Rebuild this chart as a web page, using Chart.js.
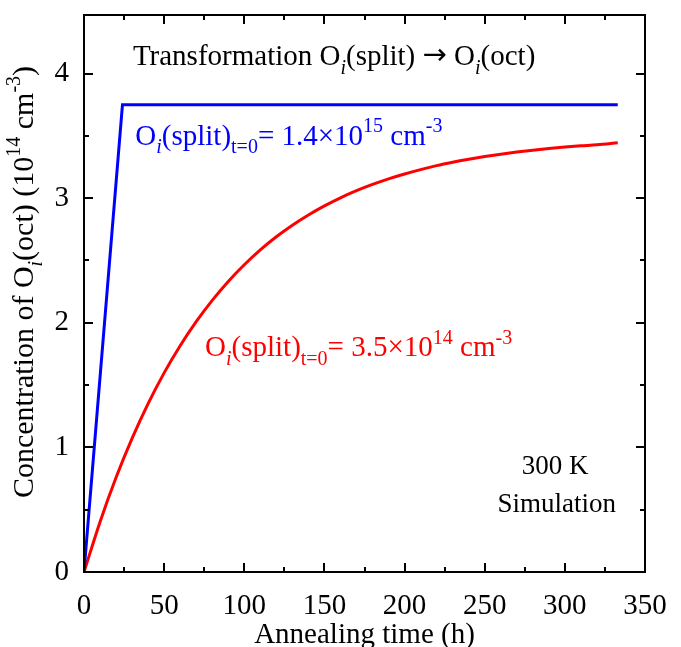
<!DOCTYPE html>
<html>
<head>
<meta charset="utf-8">
<script src="https://cdn.jsdelivr.net/npm/chart.js@4/dist/chart.umd.min.js"></script>
<style>
  html, body { margin: 0; padding: 0; background: #fff; }
  #wrap { width: 681px; height: 647px; }
</style>
</head>
<body>
<div id="wrap"><canvas id="c" width="681" height="647"></canvas></div>
<script>
// Annealing times (h) and O_i(oct) concentration (10^14 cm^-3)
const redTimes = [0, 10, 20, 30, 40, 50, 60, 70, 80, 90, 100, 110, 120, 130, 140, 150, 160, 170,
                  180, 190, 200, 210, 220, 230, 240, 250, 260, 270, 280, 290, 300, 310, 320, 333];
const redValues = [0, 0.402, 0.758, 1.072, 1.351, 1.598, 1.816, 2.009, 2.180, 2.332, 2.466, 2.585,
                   2.690, 2.783, 2.865, 2.938, 3.003, 3.060, 3.110, 3.155, 3.194, 3.229, 3.261,
                   3.288, 3.312, 3.334, 3.353, 3.370, 3.385, 3.398, 3.410, 3.420, 3.429, 3.445];
const blueTimes = [0, 24, 333];
const blueValues = [0, 3.75, 3.75];

const xTicks = [0, 50, 100, 150, 200, 250, 300, 350];
const xMinorTicks = [25, 75, 125, 175, 225, 275, 325];
const yTicks = [0, 1, 2, 3, 4];
const yMinorTicks = [0.5, 1.5, 2.5, 3.5];

const SERIF = '"Liberation Serif", "DejaVu Serif", serif';
const FS = 29;

function toPoints(xs, ys) { return xs.map((x, i) => ({ x: x, y: ys[i] })); }

// Rich text: segments of [text, kind], kind in n | i | sub | subi | sup | sym
function segFont(kind, size) {
  if (kind === 'sym') return size + 'px "DejaVu Sans", sans-serif';
  const small = (kind === 'sub' || kind === 'subi' || kind === 'sup');
  const s = small ? Math.round(size * 0.68) : size;
  const it = (kind === 'i' || kind === 'subi') ? 'italic ' : '';
  return it + s + 'px ' + SERIF;
}
function segShift(kind, size) {
  if (kind === 'sub' || kind === 'subi') return size * 0.30;
  if (kind === 'sup') return -size * 0.42;
  if (kind === 'sym') return -size * 0.02;
  return 0;
}
function richWidth(ctx, segs, size) {
  let w = 0;
  for (const [t, k] of segs) { ctx.font = segFont(k, size); w += ctx.measureText(t).width; }
  return w;
}
function drawRich(ctx, x, y, segs, size, color) {
  ctx.save();
  ctx.fillStyle = color;
  ctx.textBaseline = 'alphabetic';
  ctx.textAlign = 'left';
  let cx = x;
  for (const [t, k] of segs) {
    ctx.font = segFont(k, size);
    ctx.fillText(t, cx, y + segShift(k, size));
    cx += ctx.measureText(t).width;
  }
  ctx.restore();
}

const titleSegs = [['Transformation O', 'n'], ['i', 'subi'], ['(split) ', 'n'], ['\u2192', 'sym'], [' O', 'n'], ['i', 'subi'], ['(oct)', 'n']];
const blueSegs = [['O', 'n'], ['i', 'subi'], ['(split)', 'n'], ['t=0', 'sub'], ['= 1.4\u00d710', 'n'], ['15', 'sup'], [' cm', 'n'], ['-3', 'sup']];
const redSegs = [['O', 'n'], ['i', 'subi'], ['(split)', 'n'], ['t=0', 'sub'], ['= 3.5\u00d710', 'n'], ['14', 'sup'], [' cm', 'n'], ['-3', 'sup']];
const yTitleSegs = [['Concentration of O', 'n'], ['i', 'subi'], ['(oct) (10', 'n'], ['14', 'sup'], [' cm', 'n'], ['-3', 'sup'], [')', 'n']];

const framePlugin = {
  id: 'frameAndText',
  afterDraw(chart) {
    const ctx = chart.ctx;
    const a = chart.chartArea;
    const xs = chart.scales.x, ys = chart.scales.y;
    ctx.save();
    ctx.strokeStyle = '#000';
    ctx.lineWidth = 2;
    ctx.strokeRect(a.left, a.top, a.right - a.left, a.bottom - a.top);
    ctx.beginPath();
    const tick = (vals, len, isX) => {
      for (const v of vals) {
        if (isX) {
          const px = Math.round(xs.getPixelForValue(v));
          ctx.moveTo(px, a.bottom); ctx.lineTo(px, a.bottom - len);
          ctx.moveTo(px, a.top); ctx.lineTo(px, a.top + len);
        } else {
          const py = Math.round(ys.getPixelForValue(v));
          ctx.moveTo(a.left, py); ctx.lineTo(a.left + len, py);
          ctx.moveTo(a.right, py); ctx.lineTo(a.right - len, py);
        }
      }
    };
    tick(xTicks, 9, true);
    tick(xMinorTicks, 5, true);
    tick(yTicks, 9, false);
    tick(yMinorTicks, 5, false);
    ctx.stroke();
    ctx.restore();

    // annotations placed in data coordinates
    const P = (x, y) => [xs.getPixelForValue(x), ys.getPixelForValue(y)];
    let p = P(30.5, 4.07);
    drawRich(ctx, p[0], p[1], titleSegs, FS, '#000');
    p = P(32, 3.43);
    drawRich(ctx, p[0], p[1], blueSegs, FS, '#0000ff');
    p = P(75.5, 1.73);
    drawRich(ctx, p[0], p[1], redSegs, FS, '#ff0000');

    ctx.save();
    ctx.fillStyle = '#000';
    ctx.textAlign = 'center';
    ctx.textBaseline = 'alphabetic';
    ctx.font = '27px ' + SERIF;
    p = P(294, 0.79);
    ctx.fillText('300 K', p[0], p[1]);
    p = P(295, 0.48);
    ctx.fillText('Simulation', p[0], p[1]);
    // x axis title
    ctx.font = FS + 'px ' + SERIF;
    ctx.fillText('Annealing time (h)', (a.left + a.right) / 2, 643);
    ctx.restore();

    // y axis title, rotated
    ctx.save();
    ctx.translate(33, 282);
    ctx.rotate(-Math.PI / 2);
    const w = richWidth(ctx, yTitleSegs, 30);
    drawRich(ctx, -w / 2, 0, yTitleSegs, 30, '#000');
    ctx.restore();
  }
};

new Chart(document.getElementById('c'), {
  type: 'line',
  data: {
    datasets: [
      {
        data: toPoints(blueTimes, blueValues),
        borderColor: '#0000ff',
        borderWidth: 3,
        pointRadius: 0,
        tension: 0,
        fill: false
      },
      {
        data: toPoints(redTimes, redValues),
        borderColor: '#ff0000',
        borderWidth: 3,
        pointRadius: 0,
        cubicInterpolationMode: 'monotone',
        fill: false
      }
    ]
  },
  options: {
    responsive: false,
    devicePixelRatio: 1,
    animation: false,
    layout: { padding: { left: 0, top: 15, right: 36, bottom: 0 } },
    plugins: { legend: { display: false }, tooltip: { enabled: false } },
    scales: {
      x: {
        type: 'linear',
        min: 0, max: 350,
        grid: { display: false },
        border: { display: false },
        afterBuildTicks: (s) => { s.ticks = xTicks.map(v => ({ value: v })); },
        afterFit: (s) => { s.height = 75; s.paddingLeft = 0; s.paddingRight = 0; },
        ticks: {
          color: '#000',
          padding: 9,
          maxRotation: 0,
          autoSkip: false,
          font: { family: SERIF, size: FS }
        }
      },
      y: {
        type: 'linear',
        min: 0, max: 4.47,
        grid: { display: false },
        border: { display: false },
        afterBuildTicks: (s) => { s.ticks = yTicks.map(v => ({ value: v })); },
        afterFit: (s) => { s.width = 84; s.paddingTop = 0; s.paddingBottom = 0; },
        ticks: {
          color: '#000',
          padding: 7,
          autoSkip: false,
          font: { family: SERIF, size: FS }
        }
      }
    }
  },
  plugins: [framePlugin]
});
</script>
</body>
</html>
